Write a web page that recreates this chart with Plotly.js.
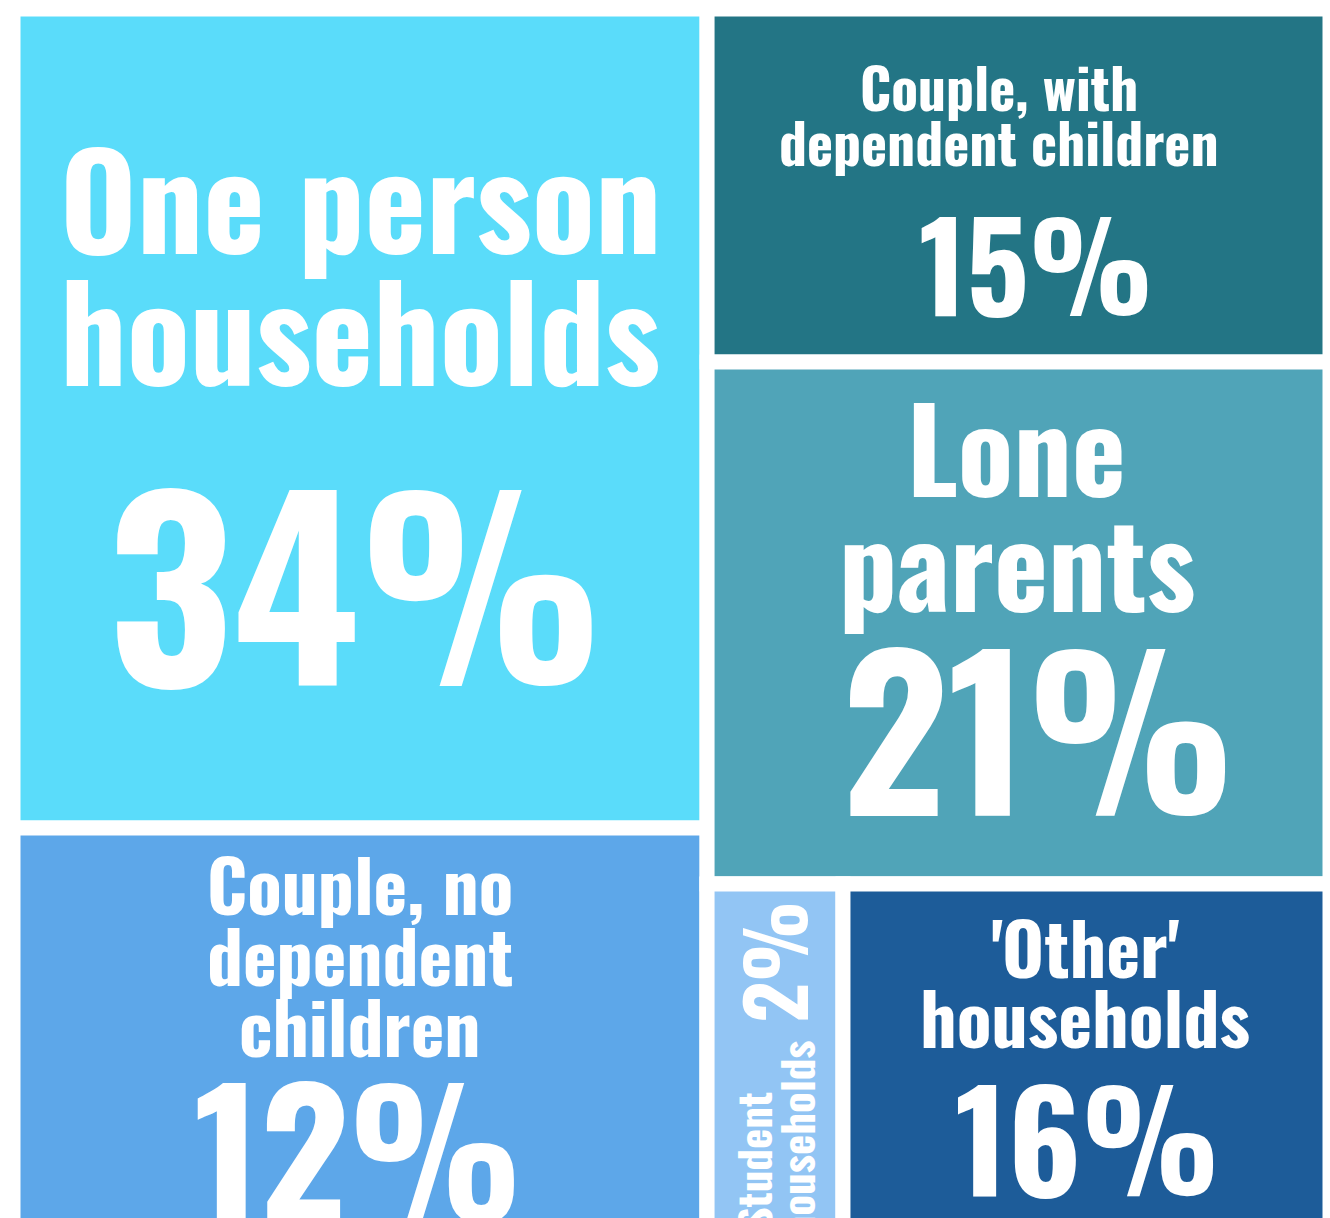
<!DOCTYPE html>
<html><head><meta charset="utf-8">
<script src="https://cdn.plot.ly/plotly-3.0.1.min.js"></script>
<style>
html,body{margin:0;padding:0;background:#fff;overflow:hidden;width:1330px;height:1218px}
#wrap{width:1330px;height:1218px;overflow:hidden;position:relative}
#chart{width:1330px;height:1251px}
</style>
</head><body>
<div id="wrap"><div id="chart"></div></div>
<script>
// ---- data ----
const categories = ["One person households","Couple, no dependent children","Couple, with dependent children","Lone parents","Student households","'Other' households"];
const shares = [34, 12, 15, 21, 2, 16];               // percentage labels
const tileWeight = [347.5, 179.5, 134.4, 198.8, 30.5, 109.3]; // relative tile areas
const labelLines = [["One person","households"],["Couple, no","dependent","children"],["Couple, with","dependent children"],["Lone","parents"],["Student","households"],["'Other'","households"]];
const groupOf = ["left","left","right","right","rightBottom","rightBottom"];
const groups = [["left","all"],["right","all"],["rightBottom","right"]];

// ---- style ----
const tileColors = ["#5ADCFA","#5DA7E9","#237585","#50A4B8","#92C5F4","#1D5C99"];
const W = 1330, H = 1251, M = {l:13, r:0, t:9, b:0};
const GAP = 15;
const FONT = "Oswald";

// hierarchy for a slice-dice treemap (group nodes listed just before their children)
const ids = ["all"], parents = [""], values = [0], colors = ["#ffffff"];
groups.forEach(([g,p])=>{
  ids.push(g); parents.push(p); values.push(0); colors.push("#ffffff");
  categories.forEach((c,i)=>{ if(groupOf[i]===g){ ids.push(c); parents.push(g); values.push(tileWeight[i]); colors.push(tileColors[i]); } });
});
// move rightBottom group after the other right-column tiles
(function(){
  const k = ids.indexOf("rightBottom");
  const seg = [ids, parents, values, colors].map(a=>a.splice(k,3));
  [ids, parents, values, colors].forEach((a,j)=>a.push(...seg[j]));
})();

const trace = {
  type:"treemap", ids:ids, labels:ids, parents:parents, values:values,
  branchvalues:"remainder", sort:false,
  tiling:{packing:"slice-dice", pad:0},
  marker:{colors:colors, pad:{t:0,l:0,r:0,b:0}, line:{width:GAP, color:"#ffffff"}, depthfade:false},
  leaf:{opacity:1},
  pathbar:{visible:false},
  textinfo:"none", hoverinfo:"skip"
};

// replicate slice-dice geometry to place the labels
const dw = W - M.l - M.r, dh = H - M.t - M.b;
function rects(){
  const T = tileWeight.reduce((a,b)=>a+b,0);
  const SL = tileWeight[0]+tileWeight[1];
  const SR = T - SL;
  const SB = tileWeight[4]+tileWeight[5];
  const xL1 = dw*SL/T, xR1 = dw;
  const r = [];
  const yOne = dh*tileWeight[0]/SL;
  r[0] = [0, 0, xL1, yOne];
  r[1] = [0, yOne, xL1, dh];
  const y1 = dh*tileWeight[2]/SR, y2 = y1 + dh*tileWeight[3]/SR;
  r[2] = [xL1, 0, xR1, y1];
  r[3] = [xL1, y1, xR1, y2];
  const xs = xL1 + (xR1-xL1)*tileWeight[4]/SB;
  r[4] = [xL1, y2, xs, dh];
  r[5] = [xs, y2, xR1, dh];
  return r.map(q=>({x0:q[0]+M.l+GAP/2, y0:q[1]+M.t+GAP/2, x1:q[2]+M.l-GAP/2, y1:q[3]+M.t-GAP/2}));
}
const R = rects();

// text placement (style): per tile sizes, baselines from tile top, offsets from tile centre
const textSpec = [
  {label:131, pct:242, base:[237.5,369.5], dx:0,  pctBase:669.5, pctDx:-5},
  {label:71.5,pct:172, base:[79.5,150.5,221.5], dx:0, pctBase:386.5, pctDx:-2},
  {label:55.5,pct:123, base:[94.5,149.5], dx:-20, pctBase:299.5, pctDx:17},
  {label:115, pct:206, base:[127.5,242.5], dx:-2, pctBase:446.5, pctDx:19},
  {label:43,  pct:80,  base:[57.5,100.5], along:[269.5,247.5], pctBase:93.5, pctAlong:70.5, rot:true},
  {label:72,  pct:137, base:[86.5,156.5], dx:-1, pctBase:306.5, pctDx:1}
];
const K = 0.452; // box middle above baseline, in em
const px = x => (x - M.l)/dw, py = y => 1 - (y - M.t)/dh;
const annotations = [];
function add(text, size, cx, cy, rot){
  annotations.push({xref:"paper", yref:"paper", x:px(cx), y:py(cy), xanchor:"center", yanchor:"middle",
    text:text, showarrow:false, textangle:rot?-90:0, borderpad:0,
    font:{family:FONT, size:size, color:"#ffffff", weight:700}});
}
categories.forEach((c,i)=>{
  const s = textSpec[i], r = R[i];
  const cx = (r.x0+r.x1)/2;
  const pct = shares[i] + "%";
  if(!s.rot){
    labelLines[i].forEach((ln,j)=> add(ln, s.label, cx + s.dx, r.y0 + s.base[j] - K*s.label, false));
    add(pct, s.pct, cx + s.pctDx, r.y0 + s.pctBase - K*s.pct, false);
  } else {
    labelLines[i].forEach((ln,j)=> add(ln, s.label, r.x0 + s.base[j] - K*s.label, r.y0 + s.along[j], true));
    add(pct, s.pct, r.x0 + s.pctBase - K*s.pct, r.y0 + s.pctAlong, true);
  }
});

Plotly.newPlot("chart", [trace], {
  width:W, height:H, margin:M, paper_bgcolor:"#ffffff",
  annotations:annotations, showlegend:false
}, {displayModeBar:false, staticPlot:true});
</script></body></html>
